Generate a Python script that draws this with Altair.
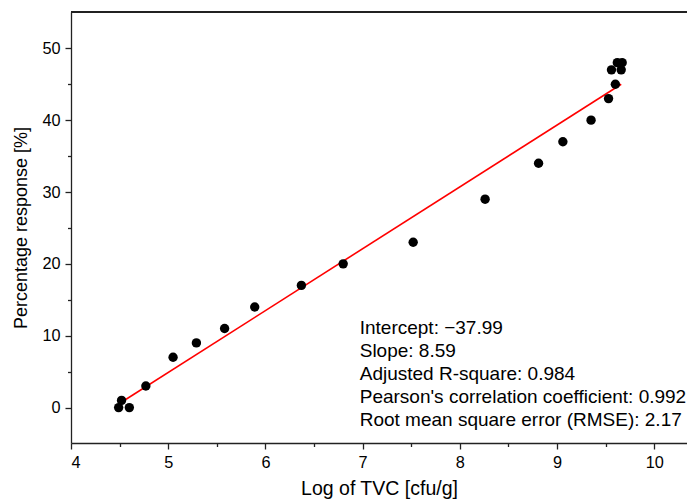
import altair as alt
import pandas as pd

log_tvc = [4.49, 4.52, 4.60, 4.77, 5.05, 5.29, 5.58, 5.89, 6.37, 6.80,
           7.52, 8.26, 8.81, 9.06, 9.35, 9.53, 9.60, 9.56, 9.66, 9.62, 9.67]
response = [0, 1, 0, 3, 7, 9, 11, 14, 17, 20,
            23, 29, 34, 37, 40, 43, 45, 47, 47, 48, 48]

# Fitted line end points
fit_x = [4.49, 9.66]
fit_y = [0.5, 45.0]

# Annotation
stats_lines = [
    "Intercept: \u221237.99",
    "Slope: 8.59",
    "Adjusted R-square: 0.984",
    "Pearson's correlation coefficient: 0.992",
    "Root mean square error (RMSE): 2.17",
]
stats_x = [6.97]
stats_y = [10.17]

x_ticks = [4, 4.5, 5, 5.5, 6, 6.5, 7, 7.5, 8, 8.5, 9, 9.5, 10]
y_ticks = [0, 5, 10, 15, 20, 25, 30, 35, 40, 45, 50]
x_domain = [4, 10.337]
y_domain = [-4.93, 55.05]

W, H = 616, 431
AX = "#222222"

pts = pd.DataFrame({"x": log_tvc, "y": response})
fit = pd.DataFrame({"x": fit_x, "y": fit_y})
ann = pd.DataFrame({"x": stats_x, "y": stats_y, "t": [stats_lines]})

xscale = alt.Scale(domain=x_domain, nice=False, zero=False)
yscale = alt.Scale(domain=y_domain, nice=False, zero=False)

xaxis = alt.Axis(
    title="Log of TVC [cfu/g]", values=x_ticks, grid=False,
    labelExpr="datum.value % 1 == 0 ? format(datum.value, 'd') : ''",
    tickSize={"condition": {"test": "datum.value % 1 != 0", "value": 3.5}, "value": 6},
    labelPadding=5.5, titlePadding=8.5, titleFontSize=19.5, labelFontSize=16.3,
)
yaxis = alt.Axis(
    title="Percentage response [%]", values=y_ticks, grid=False,
    labelExpr="datum.value % 10 == 0 ? format(datum.value, 'd') : ''",
    tickSize={"condition": {"test": "datum.value % 10 != 0", "value": 3.5}, "value": 6},
    labelPadding=5, titlePadding=11, titleFontSize=18, labelFontSize=16.3,
)

points = alt.Chart(pts).mark_circle(size=88, color="black", opacity=1).encode(
    x=alt.X("x:Q", scale=xscale, axis=xaxis),
    y=alt.Y("y:Q", scale=yscale, axis=yaxis),
)

line = alt.Chart(fit).mark_line(color="#ff0000", strokeWidth=1.6).encode(
    x=alt.X("x:Q", scale=xscale),
    y=alt.Y("y:Q", scale=yscale),
)

text = alt.Chart(ann).mark_text(
    align="left", baseline="alphabetic", fontSize=19, lineHeight=22.8,
    font="Liberation Sans", color="black",
).encode(
    x=alt.X("x:Q", scale=xscale),
    y=alt.Y("y:Q", scale=yscale),
    text="t",
)

frame_top = alt.Chart(pts).mark_rule(color=AX, strokeWidth=1.3).encode(
    x=alt.value(0), x2=alt.value(W), y=alt.value(0)
)

chart = alt.layer(line, points, text, frame_top).properties(
    width=W, height=H,
    autosize=alt.AutoSizeParams(type="none"),
    padding={"left": 63, "top": 4, "right": 0, "bottom": 58},
).configure_view(stroke=None).configure_axis(
    labelFont="Liberation Sans", titleFont="Liberation Sans",
    labelColor="black", titleColor="black", titleFontWeight="normal",
    domainColor=AX, tickColor=AX, domainWidth=1.3, tickWidth=1.3,
)

chart.save("out.html", embed_options={"renderer": "svg", "actions": False})
